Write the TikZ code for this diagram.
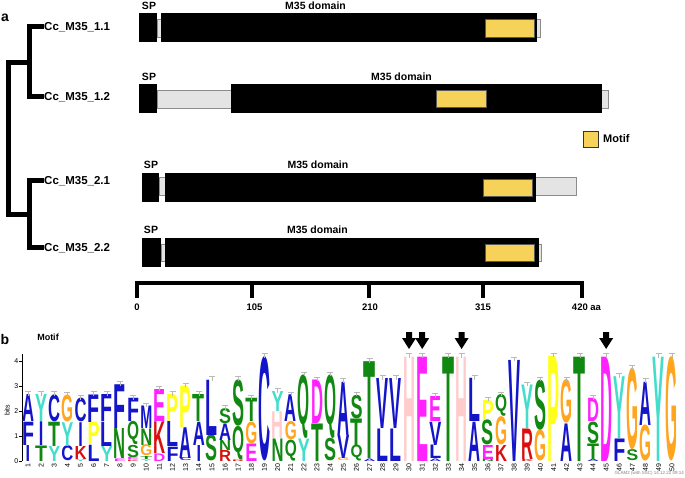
\documentclass[tikz,border=0pt]{standalone}
\usepackage{fontspec}
\setmainfont{Liberation Sans}
\usepackage{graphicx}
\usetikzlibrary{positioning}
\definecolor{motifyellow}{HTML}{F6D258}
\definecolor{linkgray}   {HTML}{E4E4E4}
\definecolor{edgegray}   {HTML}{8C8C8C}
% --- residue colours of the logo
\definecolor{hydro} {HTML}{1414C8}
\definecolor{polar} {HTML}{118811}
\definecolor{acid}  {HTML}{FF22FF}
\definecolor{basic} {HTML}{D81010}
\colorlet{resA}{hydro}\colorlet{resC}{hydro}\colorlet{resF}{hydro}
\colorlet{resI}{hydro}\colorlet{resL}{hydro}\colorlet{resM}{hydro}
\colorlet{resV}{hydro}
\colorlet{resN}{polar}\colorlet{resQ}{polar}\colorlet{resS}{polar}
\colorlet{resT}{polar}
\colorlet{resD}{acid}\colorlet{resE}{acid}
\colorlet{resK}{basic}\colorlet{resR}{basic}
\definecolor{resH}{HTML}{FFCCCC}
\definecolor{resG}{HTML}{FFA520}
\definecolor{resP}{HTML}{FFFF1A}
\definecolor{resY}{HTML}{44DDCC}
\tikzset{
  every node/.style={inner sep=0pt},
  % --- nodes
  lbl/.style     = {font=\fontsize{10.5}{12}\selectfont\bfseries},
  leaf/.style    = {anchor=west, font=\fontsize{11.5}{13}\selectfont\bfseries},
  panel/.style   = {font=\fontsize{14}{16}\selectfont\bfseries},
  ticklbl/.style = {font=\fontsize{9.5}{11}\selectfont\bfseries},
  axlbl/.style   = {font=\fontsize{7}{8}\selectfont},
  colnum/.style  = {axlbl, rotate=90, anchor=east},
  resglyph/.style= {anchor=south, outer sep=0pt, font=\bfseries},
  % --- shapes
  spbox/.style   = {fill=black},
  dombox/.style  = {fill=black},
  linkbox/.style = {fill=linkgray, draw=edgegray, line width=0.6pt},
  motifbox/.style= {fill=motifyellow, draw=black!65, line width=0.6pt},
  tree/.style    = {line width=5pt, line join=miter},
  scalebar/.style= {line width=4.5pt},
  errbar/.style  = {draw=gray!55, line width=0.6pt},
}
% one stretched letter of the logo: column, from, to (bits), residue
\newcommand\resletter[4]{%
  \pgfmathsetmacro\ry{461-25*#2}%
  \pgfmathsetmacro\rh{25*(#3-#2)}%
  \def\rw{12pt}\def\tmpI{I}\edef\tmpres{#4}%
  \ifx\tmpres\tmpI\def\rw{4.5pt}\fi
  \node[resglyph, text=res#4] (l#1#4) at (\cx,\ry) {\resizebox*{\rw}{\rh pt}{#4}};
}

\begin{document}
\begin{tikzpicture}[x=1pt,y=-1pt]
  \useasboundingbox (0,0) rectangle (685,478);

  %% ---------- panel a
  \node[panel] (pa) at (5,18) {a};

  % tree
  \node[leaf] (c11) at (44,27)  {Cc\_M35\_1.1};
  \node[leaf] (c12) at (44,97)  {Cc\_M35\_1.2};
  \node[leaf] (c21) at (44,181) {Cc\_M35\_2.1};
  \node[leaf] (c22) at (44,248) {Cc\_M35\_2.2};
  \coordinate (k1) at (29,63);
  \coordinate (k2) at (29,215);
  \coordinate (root) at (8,139);
  \draw[tree] (c11.west) -| (k1) |- (c12.west);
  \draw[tree] (c21.west) -| (k2) |- (c22.west);
  \draw[tree] (k1) -| (root) |- (k2);

  % proteins
  \draw[linkbox] (157,19) rectangle (540,37);
  \fill[spbox] (139,13) rectangle (157,42);
  \fill[dombox] (161,13) rectangle (537,42);
  \draw[motifbox] (485,19) rectangle (534,37);
  \node[lbl] (sp1) at (149,6) {SP};
  \node[lbl] (dm1) at (315.5,6) {M35 domain};

  \draw[linkbox] (157,90) rectangle (608,108);
  \fill[spbox] (139,84) rectangle (157,113);
  \fill[dombox] (231,84) rectangle (602,113);
  \draw[motifbox] (436,90) rectangle (486,107);
  \node[lbl] (sp2) at (149,77) {SP};
  \node[lbl] (dm2) at (401.5,77) {M35 domain};

  \draw[linkbox] (159,177) rectangle (576,195);
  \fill[spbox] (142,173) rectangle (159,202);
  \fill[dombox] (165,173) rectangle (536,202);
  \draw[motifbox] (483,179) rectangle (532,196);
  \node[lbl] (sp3) at (151,165) {SP};
  \node[lbl] (dm3) at (318,165) {M35 domain};

  \draw[linkbox] (161,244) rectangle (541,261);
  \fill[spbox] (142,238) rectangle (161,267);
  \fill[dombox] (165,238) rectangle (539,267);
  \draw[motifbox] (485,244) rectangle (534,261);
  \node[lbl] (sp4) at (151,230) {SP};
  \node[lbl] (dm4) at (317.5,230) {M35 domain};

  % legend
  \draw[fill=motifyellow, draw=black!80, line width=0.9pt] (583,131) rectangle (598,147);
  \node[lbl, anchor=west, font=\fontsize{11}{13}\selectfont\bfseries] (leg) at (603,139) {Motif};

  % scale
  \draw[scalebar] (137,298) |- (582,283) -- (582,298);
  \foreach \xx in {252,369,483} \draw[scalebar] (\xx,283) -- (\xx,298);
  \foreach \xx/\v in {137/0,254.5/105,370/210,483/315,586.5/420 aa}
    \node[ticklbl] (s\xx) at (\xx,307) {\v};

  %% ---------- panel b
  \node[panel] (pb) at (5,339) {b};
  \node[lbl, font=\fontsize{9}{11}\selectfont\bfseries] (mt) at (48,337) {Motif};

  % axis
  \draw[line width=0.6pt] (22,354) -- (22,461);
  \foreach \b in {0,...,4}{
    \draw[line width=0.6pt] (19,461-25*\b) -- (22,461-25*\b);
    \node[axlbl, anchor=east] (t\b) at (18.5,461-25*\b) {\b};
  }
  \node[axlbl, rotate=90] (bits) at (7,410) {bits};

  % logo
  \foreach \c/\tp/\stk in {
    1/2.65/{I/0/0.64,F/0.64/1.57,A/1.57/2.65},
    2/2.65/{T/0/0.62,I/0.62/1.57,Y/1.57/2.65},
    3/2.65/{Y/0/0.6,T/0.6/1.57,C/1.57/2.65},
    4/2.62/{C/0/0.6,Y/0.6/1.55,G/1.55/2.62},
    5/2.5/{Y/0/0.08,K/0.08/0.6,I/0.6/1.55,C/1.55/2.5},
    6/2.65/{L/0/0.65,P/0.65/1.55,F/1.55/2.65},
    7/2.65/{Y/0/0.6,L/0.6/1.57,F/1.57/2.65},
    8/3.05/{E/0/0.1,N/0.1/1.3,F/1.3/3.05},
    9/2.5/{K/0/0.06,E/0.06/0.15,S/0.15/0.64,Q/0.64/1.57,F/1.57/2.5},
    10/2.2/{Y/0/0.08,T/0.08/0.2,G/0.2/0.64,N/0.64/1.3,M/1.3/2.2},
    11/2.85/{D/0/0.3,K/0.3/1.57,E/1.57/2.85},
    12/2.65/{F/0/0.57,L/0.57/1.57,P/1.57/2.65},
    13/3.0/{C/0/0.12,A/0.12/1.35,P/1.35/3.0},
    14/2.65/{I/0/0.64,A/0.64/1.57,T/1.57/2.65},
    15/3.25/{S/0/1.04,L/1.04/3.25},
    16/2.1/{R/0/0.44,N/0.44/0.84,A/0.84/1.5,S/1.5/2.1},
    17/3.25/{R/0/0.06,Q/0.06/1.4,S/1.4/3.25},
    18/2.5/{E/0/0.7,G/0.7/1.57,T/1.57/2.5},
    19/4.17/{C/0/4.17},
    20/2.77/{N/0/0.9,H/0.9/1.97,Y/1.97/2.77},
    21/2.64/{Q/0/0.84,G/0.84/1.57,A/1.57/2.64},
    22/3.44/{Y/0/0.9,Q/0.9/3.44},
    23/3.24/{T/0/1.5,D/1.5/3.24},
    24/3.44/{S/0/0.9,Q/0.9/3.44},
    25/3.17/{G/0/0.12,V/0.12/1.04,A/1.04/3.17},
    26/2.64/{Q/0/0.64,T/0.64/1.7,S/1.7/2.64},
    27/3.97/{A/0/0.1,T/0.1/3.97},
    28/3.3/{L/0/1.3,V/1.3/3.3},
    29/3.3/{L/0/1.3,V/1.3/3.3},
    30/4.17/{H/0/4.17},
    31/4.17/{E/0/4.17},
    32/2.57/{A/0/0.1,L/0.1/0.64,V/0.64/1.57,E/1.57/2.57},
    33/4.17/{T/0/4.17},
    34/4.17/{H/0/4.17},
    35/3.3/{A/0/1.57,L/1.57/3.3},
    36/2.44/{N/0/0.08,E/0.08/0.64,S/0.64/1.64,P/1.64/2.44},
    37/2.64/{K/0/0.64,G/0.64/1.77,Q/1.77/2.64},
    38/4.04/{V/0/4.04},
    39/3.04/{K/0/0.08,R/0.08/1.3,Y/1.3/3.04},
    40/3.24/{G/0/1.24,S/1.24/3.24},
    41/4.2/{P/0/4.2},
    42/3.24/{A/0/1.5,G/1.5/3.24},
    43/4.17/{T/0/4.17},
    44/2.5/{A/0/0.08,T/0.08/0.7,S/0.7/1.57,D/1.57/2.5},
    45/4.17/{D/0/4.17},
    46/3.37/{F/0/0.9,Y/0.9/3.37},
    47/3.7/{S/0/0.44,G/0.44/3.7},
    48/3.17/{G/0/1.44,A/1.44/3.17},
    49/4.17/{Y/0/4.17},
    50/4.17/{G/0/4.17}}{
    \pgfmathsetmacro\cx{28+(\c-1)*13.14}
    \foreach \res/\lo/\hi in \stk {\resletter{\c}{\lo}{\hi}{\res}}
    \pgfmathsetmacro\ety{461-25*\tp-3}
    \draw[errbar] (\cx,\ety+4) -- (\cx,\ety) (\cx-3,\ety) -- (\cx+3,\ety);
    \node[colnum] (n\c) at (\cx,463.5) {\c};
  }

  % marked residues
  \foreach \c in {30,31,34,45}{
    \pgfmathsetmacro\cx{28+(\c-1)*13.14}
    \fill (\cx-3,332) -- (\cx+3,332) -- (\cx+3,338) -- (\cx+7,338)
      -- (\cx,349) -- (\cx-7,338) -- (\cx-3,338) -- cycle;
  }

  \node[anchor=east, font=\fontsize{4.5}{5}\selectfont, text=gray] (stamp) at (684,473)
    {GLAM2 (with SSC) 14.12.22 09:14};
\end{tikzpicture}
\end{document}
